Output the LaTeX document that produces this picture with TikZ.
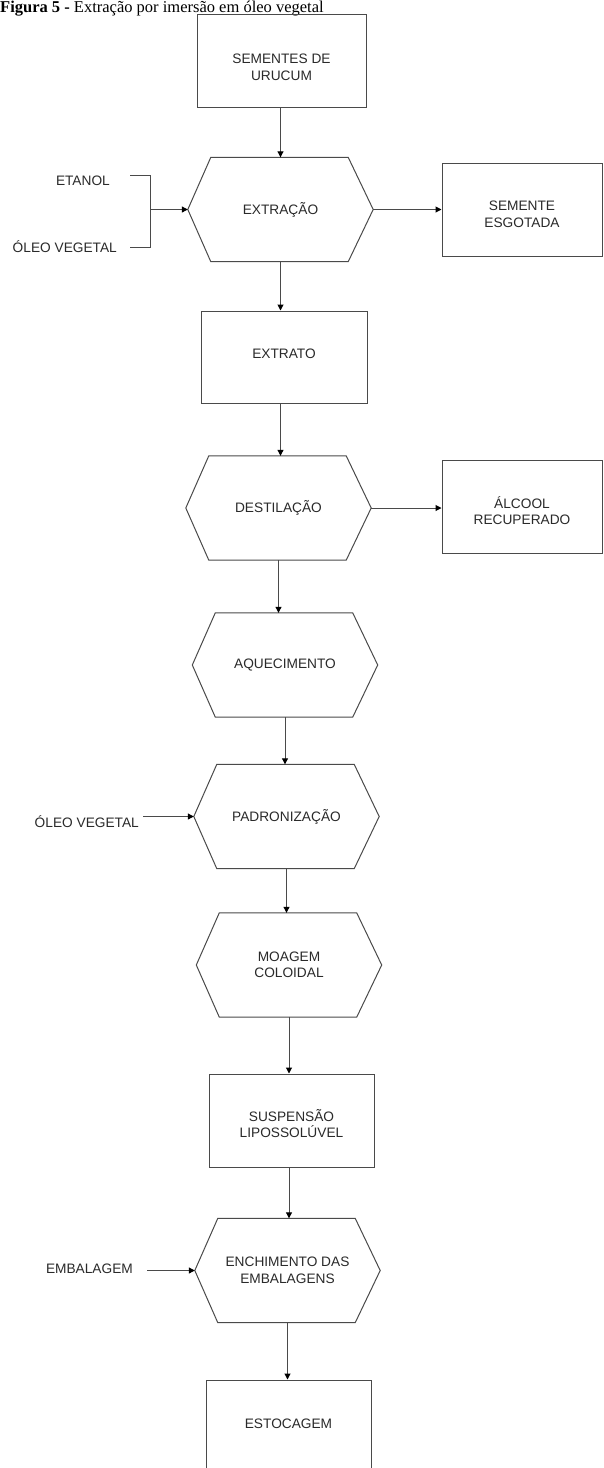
\documentclass[tikz,border=0pt]{standalone}
\usepackage{fontspec}
\setmainfont{Liberation Serif}
\newfontfamily\arialf{Liberation Sans}
\usetikzlibrary{arrows.meta}
\definecolor{ln}{HTML}{4A4A4A}
\definecolor{txt}{HTML}{2A2A2A}
\begin{document}
\begin{tikzpicture}[x=1pt,y=-1pt,
  lbl/.style={font=\arialf\fontsize{13.7}{16.5}\selectfont, text=txt, align=center, inner sep=0pt},
  boxn/.style={draw=ln, line width=1pt, inner sep=0pt},
  hexn/.style={lbl, minimum width=185pt, minimum height=104pt},
  hexline/.style={draw=ln, line width=1pt},
  conn/.style={draw=ln, line width=1pt},
  arr/.style={draw=ln, line width=1pt, -{Triangle[length=6pt,width=6pt,color=black]}}]
\useasboundingbox (0,0) rectangle (603,1468);
\fill[white] (0,0) rectangle (603,1468);

% title
\node[anchor=base west, inner sep=0pt, font=\fontsize{16.5}{19}\selectfont] (title) at (0,12)
  {\textbf{Figura 5 -} Extração por imersão em óleo vegetal};

% main column
\node[boxn, minimum width=169pt, minimum height=93pt,
  label={[lbl,yshift=-7pt]center:SEMENTES DE\\URUCUM}] (b1) at (281.5,60.5) {};
\node[hexn] (ext) at (280.5,209.5) {EXTRAÇÃO};
\node[boxn, minimum width=160pt, minimum height=93pt,
  label={[lbl,yshift=-5pt]center:SEMENTE\\ESGOTADA}] (sem) at (522,209.5) {};
\node[boxn, minimum width=166pt, minimum height=92pt,
  label={[lbl,yshift=3pt]center:EXTRATO}] (extr) at (284,357) {};
\node[hexn] (des) at (278.5,508) {DESTILAÇÃO};
\node[boxn, minimum width=160pt, minimum height=93pt,
  label={[lbl,yshift=-4pt]center:ÁLCOOL\\RECUPERADO}] (alc) at (522,506.5) {};
\node[hexn] (aqu) at (285,665) {AQUECIMENTO};
\node[hexn] (pad) at (286.5,816.5) {PADRONIZAÇÃO};
\node[hexn] (moa) at (289,965) {MOAGEM\\COLOIDAL};
\node[boxn, minimum width=165pt, minimum height=93pt,
  label={[lbl,yshift=-3pt]center:SUSPENSÃO\\LIPOSSOLÚVEL}] (sus) at (291.5,1120.5) {};
\node[hexn] (enc) at (287.5,1270.5) {ENCHIMENTO DAS\\EMBALAGENS};
\node[boxn, minimum width=165pt, minimum height=93pt,
  label={[lbl,yshift=3pt]center:ESTOCAGEM}] (est) at (288.5,1426.5) {};

% hexagon outlines
\foreach \n in {ext,des,aqu,pad,moa,enc}{
  \draw[hexline] (\n.west) -- ([xshift=23pt]\n.north west) -- ([xshift=-25pt]\n.north east)
    -- (\n.east) -- ([xshift=-25pt]\n.south east) -- ([xshift=23pt]\n.south west) -- cycle;
}

% side inputs
\node[lbl, anchor=east] (eta) at (110,181) {ETANOL};
\node[lbl, anchor=east] (ol1) at (117,247) {ÓLEO VEGETAL};
\node[lbl, anchor=east] (ol2) at (139,822) {ÓLEO VEGETAL};
\node[lbl, anchor=east] (emb) at (133,1269) {EMBALAGEM};

\coordinate (bt0) at (130,175);
\coordinate (bt) at (150,175);
\coordinate (bb) at (150,247);
\coordinate (bb0) at (130,247);
\draw[conn] (bt0) -- (bt) -- (bb) -- (bb0);
\draw[arr] (bt |- ext.west) -- (ext.west);
\draw[arr] ([xshift=4pt]ol2.east |- pad.west) -- (pad.west);
\draw[arr] ([xshift=14pt]emb.east |- enc.west) -- (enc.west);

% vertical flow
\draw[arr] (b1.south -| ext.north) -- (ext.north);
\draw[arr] (ext.south) -- (ext.south |- extr.north);
\draw[arr] (extr.south -| ext.south) -- (ext.south |- des.north);
\draw[arr] (des.south) -- (des.south |- aqu.north);
\draw[arr] (aqu.south) -- (aqu.south |- pad.north);
\draw[arr] (pad.south) -- (pad.south |- moa.north);
\draw[arr] (moa.south) -- (moa.south |- sus.north);
\draw[arr] (sus.south -| moa.south) -- (moa.south |- enc.north);
\draw[arr] (enc.south) -- (enc.south |- est.north);

% side outputs
\draw[arr] (ext.east) -- (ext.east -| sem.west);
\draw[arr] (des.east) -- (des.east -| alc.west);
\end{tikzpicture}
\end{document}
